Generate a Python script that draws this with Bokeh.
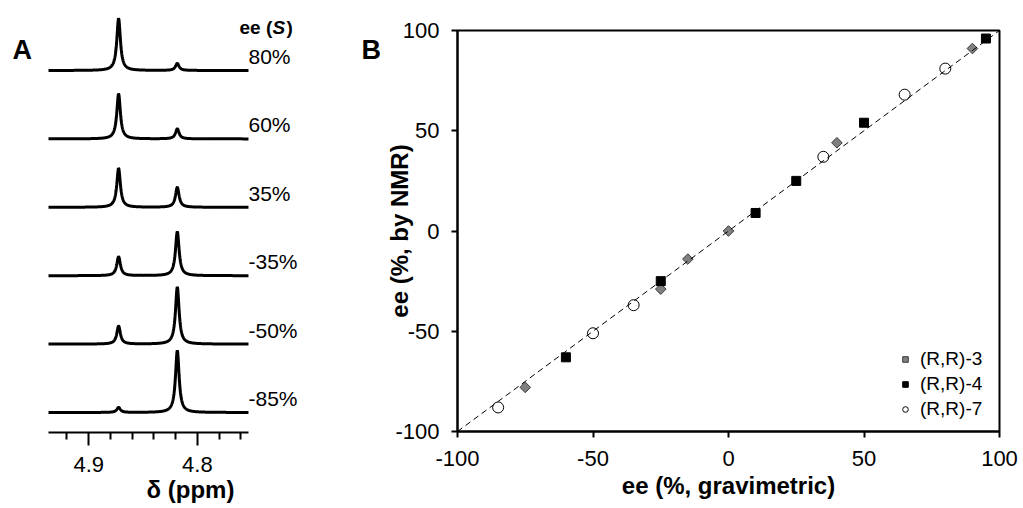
import numpy as np
from bokeh.plotting import figure
from bokeh.models import (Range1d, FixedTicker, Legend, LegendItem,
                          ColumnDataSource, Slope)
from bokeh.core.properties import value
from bokeh.layouts import row
from bokeh.embed import file_html
from bokeh.resources import INLINE

FONT = "Liberation Sans"

# ---------------- Panel A data (1H NMR spectra) ----------------
ee_labels = ["80%", "60%", "35%", "-35%", "-50%", "-85%"]
peak_ppm = [4.8725, 4.8185]            # chemical shifts of the two signals
height_low = [52, 45, 39, 19, 18, 5]   # intensity of the 4.87 ppm signal
height_high = [7, 10, 20, 44, 57, 62]  # intensity of the 4.82 ppm signal
half_width_ppm = 0.002                 # Lorentzian half width
ppm_axis = [4.937, 4.753]              # extent of the ppm axis
ppm_major = [4.9, 4.8]
ppm_minor = [4.92, 4.88, 4.86, 4.84, 4.82, 4.78, 4.76]

# ---------------- Panel B data (ee by NMR vs gravimetric) ----------------
grav3 = [-75, -25, -15, 0, 40, 90]
nmr3 = [-78, -29, -14, 0, 44, 91]
grav4 = [-60, -25, 10, 25, 50, 95]
nmr4 = [-63, -25, 9, 25, 54, 96]
grav7 = [-85, -50, -35, 35, 65, 80]
nmr7 = [-88, -51, -37, 37, 68, 81]
ticks_B = [-100, -50, 0, 50, 100]

# ---------------- layout constants (pixels) ----------------
H = 508
WA = 380                 # width of panel A canvas
AX_L, AX_R = 48, 248     # pixel extent of the ppm axis
A_BOTTOM = 76            # space below panel A frame
SP = 68.4                # stacking offset between spectra
BASE_GAP = 20            # lowest baseline above the axis

px_per_ppm = (AX_R - AX_L) / (ppm_axis[0] - ppm_axis[1])
xr_start = ppm_axis[0] + AX_L / px_per_ppm
xr_end = ppm_axis[1] - (WA - AX_R) / px_per_ppm
frame_h = H - A_BOTTOM
y_start = -(len(ee_labels) - 1) * SP - BASE_GAP
y_end = y_start + frame_h

# ---------------- Panel A ----------------
pA = figure(width=WA, height=H, output_backend="svg", toolbar_location=None,
            x_range=Range1d(xr_start, xr_end), y_range=Range1d(y_start, y_end),
            y_axis_location=None, min_border_left=0, min_border_right=0,
            min_border_top=0, min_border_bottom=A_BOTTOM)
pA.outline_line_color = None
pA.grid.visible = False

ppm = np.linspace(ppm_axis[1], ppm_axis[0], 900)
xs, ys, bases = [], [], []
for i in range(len(ee_labels)):
    base = -i * SP
    sig = np.zeros_like(ppm)
    for x0, h in zip(peak_ppm, [height_low[i], height_high[i]]):
        sig += h / (1.0 + ((ppm - x0) / half_width_ppm) ** 2)
    xs.append(ppm)
    ys.append(base + sig)
    bases.append(base)
pA.multi_line(xs="xs", ys="ys", source=ColumnDataSource(dict(xs=xs, ys=ys)),
              line_color="black", line_width=3)

lab_src = ColumnDataSource(dict(x=[ppm_axis[1]] * len(ee_labels), y=bases,
                                text=ee_labels))
pA.text(x="x", y="y", text="text", source=lab_src, x_offset=0, y_offset=-14,
        text_font=value(FONT), text_font_size="21px", text_baseline="middle",
        text_align="left", text_color="black")

# header "ee (S)"
for t, dx, st in [("ee (", -9, "bold"), ("S", 24, "bold italic"), (")", 38, "bold")]:
    pA.text(x=[ppm_axis[1]], y=[y_end], text=[t], x_offset=dx, y_offset=27,
            text_font=value(FONT), text_font_size="19px", text_font_style=st,
            text_baseline="middle", text_align="left", text_color="black")

# panel letters
pA.text(x=[xr_start], y=[y_end], text=["A"], x_offset=12, y_offset=49,
        text_font=value(FONT), text_font_size="27px", text_font_style="bold",
        text_baseline="middle", text_align="left", text_color="black")
pA.text(x=[xr_start], y=[y_end], text=["B"], x_offset=361, y_offset=49,
        text_font=value(FONT), text_font_size="27px", text_font_style="bold",
        text_baseline="middle", text_align="left", text_color="black")

ax = pA.xaxis[0]
ax.bounds = (ppm_axis[1], ppm_axis[0])
ax.ticker = FixedTicker(ticks=ppm_major, minor_ticks=ppm_minor)
ax.axis_line_width = 2
ax.major_tick_line_width = 2
ax.minor_tick_line_width = 2
ax.major_tick_in = 0
ax.major_tick_out = 13
ax.minor_tick_in = 0
ax.minor_tick_out = 7
ax.major_label_standoff = 11
ax.major_label_text_font = FONT
ax.major_label_text_font_size = "22px"
ax.major_label_text_color = "black"
ax.axis_label = "δ (ppm)"
ax.axis_label_text_font = FONT
ax.axis_label_text_font_style = "bold"
ax.axis_label_text_font_size = "24px"
ax.axis_label_text_color = "black"
ax.axis_label_standoff = 1

# ---------------- Panel B ----------------
pB = figure(width=1023 - WA, height=H, output_backend="svg", toolbar_location=None,
            x_range=Range1d(-100, 100), y_range=Range1d(-100, 100),
            min_border_left=457 - WA, min_border_right=24, min_border_top=30,
            min_border_bottom=77)
pB.grid.visible = False
pB.outline_line_color = "black"
pB.outline_line_width = 2

for p in (pA, pB):
    try:
        p.frame_align = False
    except Exception:
        pass

pB.add_layout(Slope(gradient=1, y_intercept=0, line_color="black",
                    line_width=1, line_dash="6 4"))

r3 = pB.scatter(grav3, nmr3, marker="square", angle=np.pi / 4, size=7.5,
                fill_color="#808080", line_color="#3a3a3a", line_width=1)
r4 = pB.scatter(grav4, nmr4, marker="square", size=9,
                fill_color="black", line_color="black")
r7 = pB.scatter(grav7, nmr7, marker="circle", size=11,
                fill_color="white", line_color="black", line_width=1)

overrides = {t: str(t) for t in ticks_B}
for a in (pB.xaxis[0], pB.yaxis[0]):
    a.ticker = FixedTicker(ticks=ticks_B, minor_ticks=[])
    a.major_label_overrides = overrides
    a.axis_line_width = 2
    a.major_tick_line_width = 2
    a.major_tick_in = 0
    a.major_tick_out = 6
    a.minor_tick_out = 0
    a.major_label_text_font = FONT
    a.major_label_text_font_size = "22px"
    a.major_label_text_color = "black"
    a.axis_label_text_font = FONT
    a.axis_label_text_font_style = "bold"
    a.axis_label_text_font_size = "24px"
    a.axis_label_text_color = "black"
pB.xaxis[0].axis_label = "ee (%, gravimetric)"
pB.xaxis[0].major_label_standoff = 13
pB.xaxis[0].axis_label_standoff = 3
pB.yaxis[0].axis_label = "ee (%, by NMR)"
pB.yaxis[0].major_label_standoff = 12
pB.yaxis[0].axis_label_standoff = -21

legend = Legend(items=[LegendItem(label="(R,R)-3", renderers=[r3]),
                       LegendItem(label="(R,R)-4", renderers=[r4]),
                       LegendItem(label="(R,R)-7", renderers=[r7])],
                location=(441, 11), label_text_font=FONT,
                label_text_font_size="19px", label_text_color="black",
                border_line_color=None,
                background_fill_alpha=0, glyph_width=14, glyph_height=22,
                label_height=22, label_standoff=8, spacing=3, padding=0, margin=0)
pB.add_layout(legend)

layout = row(pA, pB)
open("out.html", "w").write(file_html(layout, INLINE))
